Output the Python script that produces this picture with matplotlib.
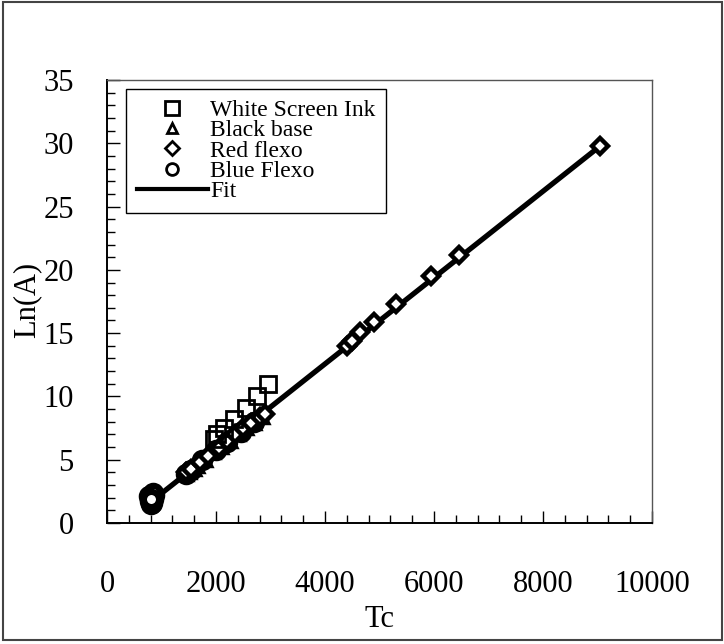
import numpy as np
import matplotlib.pyplot as plt
from matplotlib.lines import Line2D
from matplotlib.patches import Rectangle

plt.rcParams['font.family'] = ['Liberation Serif', 'DejaVu Serif']

# White Screen Ink
white_tc = [1960, 2020, 2150, 2330, 2550, 2750, 2960]
white_lna = [6.6, 7.0, 7.5, 8.2, 9.1, 10.0, 11.0]

# Black base
black_tc = [1450, 1500, 1600, 1650, 1800, 1950, 2100, 2250, 2400, 2550, 2700, 2850]
black_lna = [3.9, 4.0, 4.3, 4.5, 5.0, 5.6, 6.0, 6.5, 7.0, 7.5, 7.9, 8.4]

# Red flexo
red_tc = [1450, 1550, 1700, 1850, 2050, 2200, 2350, 2500, 2650, 2800, 2900,
          4400, 4500, 4650, 4900, 5300, 5950, 6450, 9050]
red_lna = [4.0, 4.3, 4.8, 5.3, 5.9, 6.5, 7.0, 7.5, 7.9, 8.4, 8.6,
           14.0, 14.4, 15.1, 15.9, 17.3, 19.5, 21.2, 29.8]

# Blue Flexo
blue_tc = [790, 820, 850, 830, 770, 860, 800, 840, 780, 815,
           1450, 1550, 1750, 2000, 2200, 2450, 2700]
blue_lna = [1.9, 2.2, 1.9, 1.6, 2.1, 2.2, 1.5, 2.4, 1.7, 1.9,
            3.9, 4.2, 5.0, 5.8, 6.4, 7.2, 8.0]

# linear fit Ln(A) = a*Tc + b
fit_slope = 0.00341
fit_intercept = -1.07
fit_range = [800, 9050]

fig = plt.figure(figsize=(7.24, 6.44), dpi=100)
ax = fig.add_axes([0.1478, 0.1879, 0.7528, 0.6879])

fx = np.array(fit_range)
ax.plot(fx, fit_slope * fx + fit_intercept, color='black', lw=3.8, zorder=2)

mk = dict(linestyle='none', markerfacecolor='white', markeredgecolor='black',
          markeredgewidth=3.2, zorder=3)
ax.plot(blue_tc, blue_lna, marker='o', markersize=11, linestyle='none',
        markerfacecolor='white', markeredgecolor='black', markeredgewidth=4.5, zorder=3)
ax.plot(black_tc, black_lna, marker='^', markersize=9, **mk)
ax.plot(red_tc, red_lna, marker='D', markersize=8, **mk)
ax.plot(white_tc, white_lna, marker='s', markersize=12, markeredgewidth=2.0,
        linestyle='none', markerfacecolor='none', markeredgecolor='black', zorder=4)

ax.set_xlim(0, 10000)
ax.set_ylim(0, 35)
ax.set_xticks(range(0, 10001, 2000))
ax.set_xticks(range(0, 10001, 400), minor=True)
ax.set_yticks(range(0, 36, 5))
ax.set_yticks(range(0, 36, 1), minor=True)
ax.tick_params(axis='both', which='both', direction='in', top=False, right=False,
               labelsize=22, width=1)
ax.tick_params(axis='x', which='major', length=9, pad=34)
ax.tick_params(axis='x', which='minor', length=6)
ax.tick_params(axis='y', which='major', length=9, pad=24)
ax.tick_params(axis='y', which='minor', length=6)
for s in ['left', 'bottom']:
    ax.spines[s].set_linewidth(1.4)
for s in ['top', 'right']:
    ax.spines[s].set_linewidth(1.0)
    ax.spines[s].set_color('#555555')

ax.set_xlabel('Tc', fontsize=22)
ax.set_ylabel('Ln(A)', fontsize=22)
ax.xaxis.set_label_coords(0.5, -0.185)
ax.yaxis.set_label_coords(-0.12, 0.503)

handles = [
    Line2D([], [], linestyle='none', marker='s', markersize=9.5, markerfacecolor='white',
           markeredgecolor='black', markeredgewidth=2),
    Line2D([], [], linestyle='none', marker='^', markersize=6.5, markerfacecolor='white',
           markeredgecolor='black', markeredgewidth=2),
    Line2D([], [], linestyle='none', marker='D', markersize=7, markerfacecolor='white',
           markeredgecolor='black', markeredgewidth=2),
    Line2D([], [], linestyle='none', marker='o', markersize=8.5, markerfacecolor='white',
           markeredgecolor='black', markeredgewidth=2),
    Line2D([], [], color='black', lw=3),
]
labels = ['White Screen Ink', 'Black base', 'Red flexo', 'Blue Flexo', 'Fit']
leg = ax.legend(handles, labels, loc='upper left', bbox_to_anchor=(0.035, 0.98),
                borderaxespad=0, fontsize=17, frameon=True, fancybox=False,
                edgecolor='black', framealpha=1, handlelength=3.0, handletextpad=0.1,
                labelspacing=-0.05, borderpad=0.45)
leg.get_frame().set_linewidth(1.0)

# outer frame around the whole figure
fig.patches.append(Rectangle((0.004, 0.006), 0.993, 0.991, transform=fig.transFigure,
                             fill=False, edgecolor='#444444', lw=1.5))

fig.savefig('out.png', dpi=100)
